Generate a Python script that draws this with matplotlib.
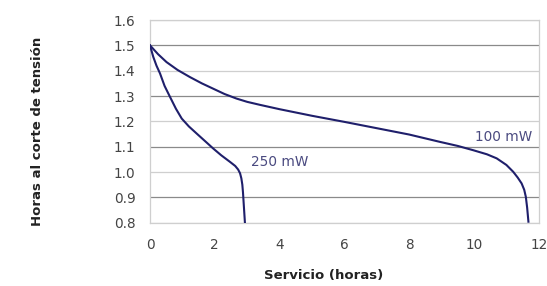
import matplotlib
matplotlib.use("Agg")
import matplotlib.pyplot as plt

# Data
x_100 = [0, 0.25, 0.51, 0.85, 1.23, 1.6, 1.95, 2.3, 2.67, 3.0, 3.4, 4.0, 5.0, 6.0, 6.8, 8.0,
         8.95, 9.5, 9.98, 10.4, 10.7, 11.0, 11.21, 11.35, 11.47, 11.55, 11.6, 11.64, 11.68]
y_100 = [1.5, 1.465, 1.434, 1.403, 1.375, 1.35, 1.329, 1.308, 1.29, 1.277, 1.265, 1.248, 1.222, 1.198, 1.178, 1.148,
         1.119, 1.103, 1.086, 1.07, 1.054, 1.028, 1.001, 0.978, 0.955, 0.93, 0.902, 0.86, 0.804]

x_250 = [0, 0.1, 0.2, 0.31, 0.45, 0.62, 0.8, 0.98, 1.2, 1.44, 1.7, 1.95, 2.2, 2.47, 2.63, 2.72,
         2.78, 2.82, 2.85, 2.87, 2.89, 2.91, 2.93]
y_250 = [1.5, 1.455, 1.42, 1.389, 1.34, 1.296, 1.25, 1.211, 1.18, 1.152, 1.122, 1.093, 1.066, 1.04, 1.024, 1.01,
         0.995, 0.975, 0.95, 0.92, 0.88, 0.84, 0.8]

x_ticks = [0, 2, 4, 6, 8, 10, 12]
y_ticks = [0.8, 0.9, 1.0, 1.1, 1.2, 1.3, 1.4, 1.5, 1.6]

plt.rcParams['font.family'] = ['DejaVu Sans']

fig = plt.figure(figsize=(5.47, 2.86), dpi=100)
ax = fig.add_axes([0.2742, 0.2213, 0.7108, 0.7087])

ax.set_xlim(0, 12)
ax.set_ylim(0.8, 1.6)

for yv in y_ticks:
    dark = (round(yv * 10) % 2 == 1)
    ax.axhline(yv, color='#8a8a8a' if dark else '#cfcfcf', lw=0.9, zorder=1)

line_color = '#1f1f6b'
ax.plot(x_100, y_100, color=line_color, lw=1.5, zorder=3, solid_joinstyle='round')
ax.plot(x_250, y_250, color=line_color, lw=1.5, zorder=3, solid_joinstyle='round')

ax.text(4.0, 1.039, '250 mW', color='#4a4a80', fontsize=9.8, ha='center', va='center')
ax.text(10.9, 1.137, '100 mW', color='#4a4a80', fontsize=9.8, ha='center', va='center')

ax.set_xticks(x_ticks)
ax.set_yticks(y_ticks)
ax.set_yticklabels([f'{v:.1f}' for v in y_ticks])
ax.tick_params(axis='both', length=0, labelsize=9.8, colors='#444444')
ax.tick_params(axis='x', pad=11)
ax.tick_params(axis='y', pad=10.5)

for s in ['top', 'right', 'left', 'bottom']:
    ax.spines[s].set_color('#cfcfcf')
    ax.spines[s].set_linewidth(0.9)

fig.text(0.592, 0.038, 'Servicio (horas)', fontsize=9.5, fontweight='bold', ha='center', va='center', color='#222222')
fig.text(0.069, 0.542, 'Horas al corte de tensión', fontsize=9.5, fontweight='bold', rotation=90,
         ha='center', va='center', color='#222222')

fig.savefig('out.png', dpi=100)
